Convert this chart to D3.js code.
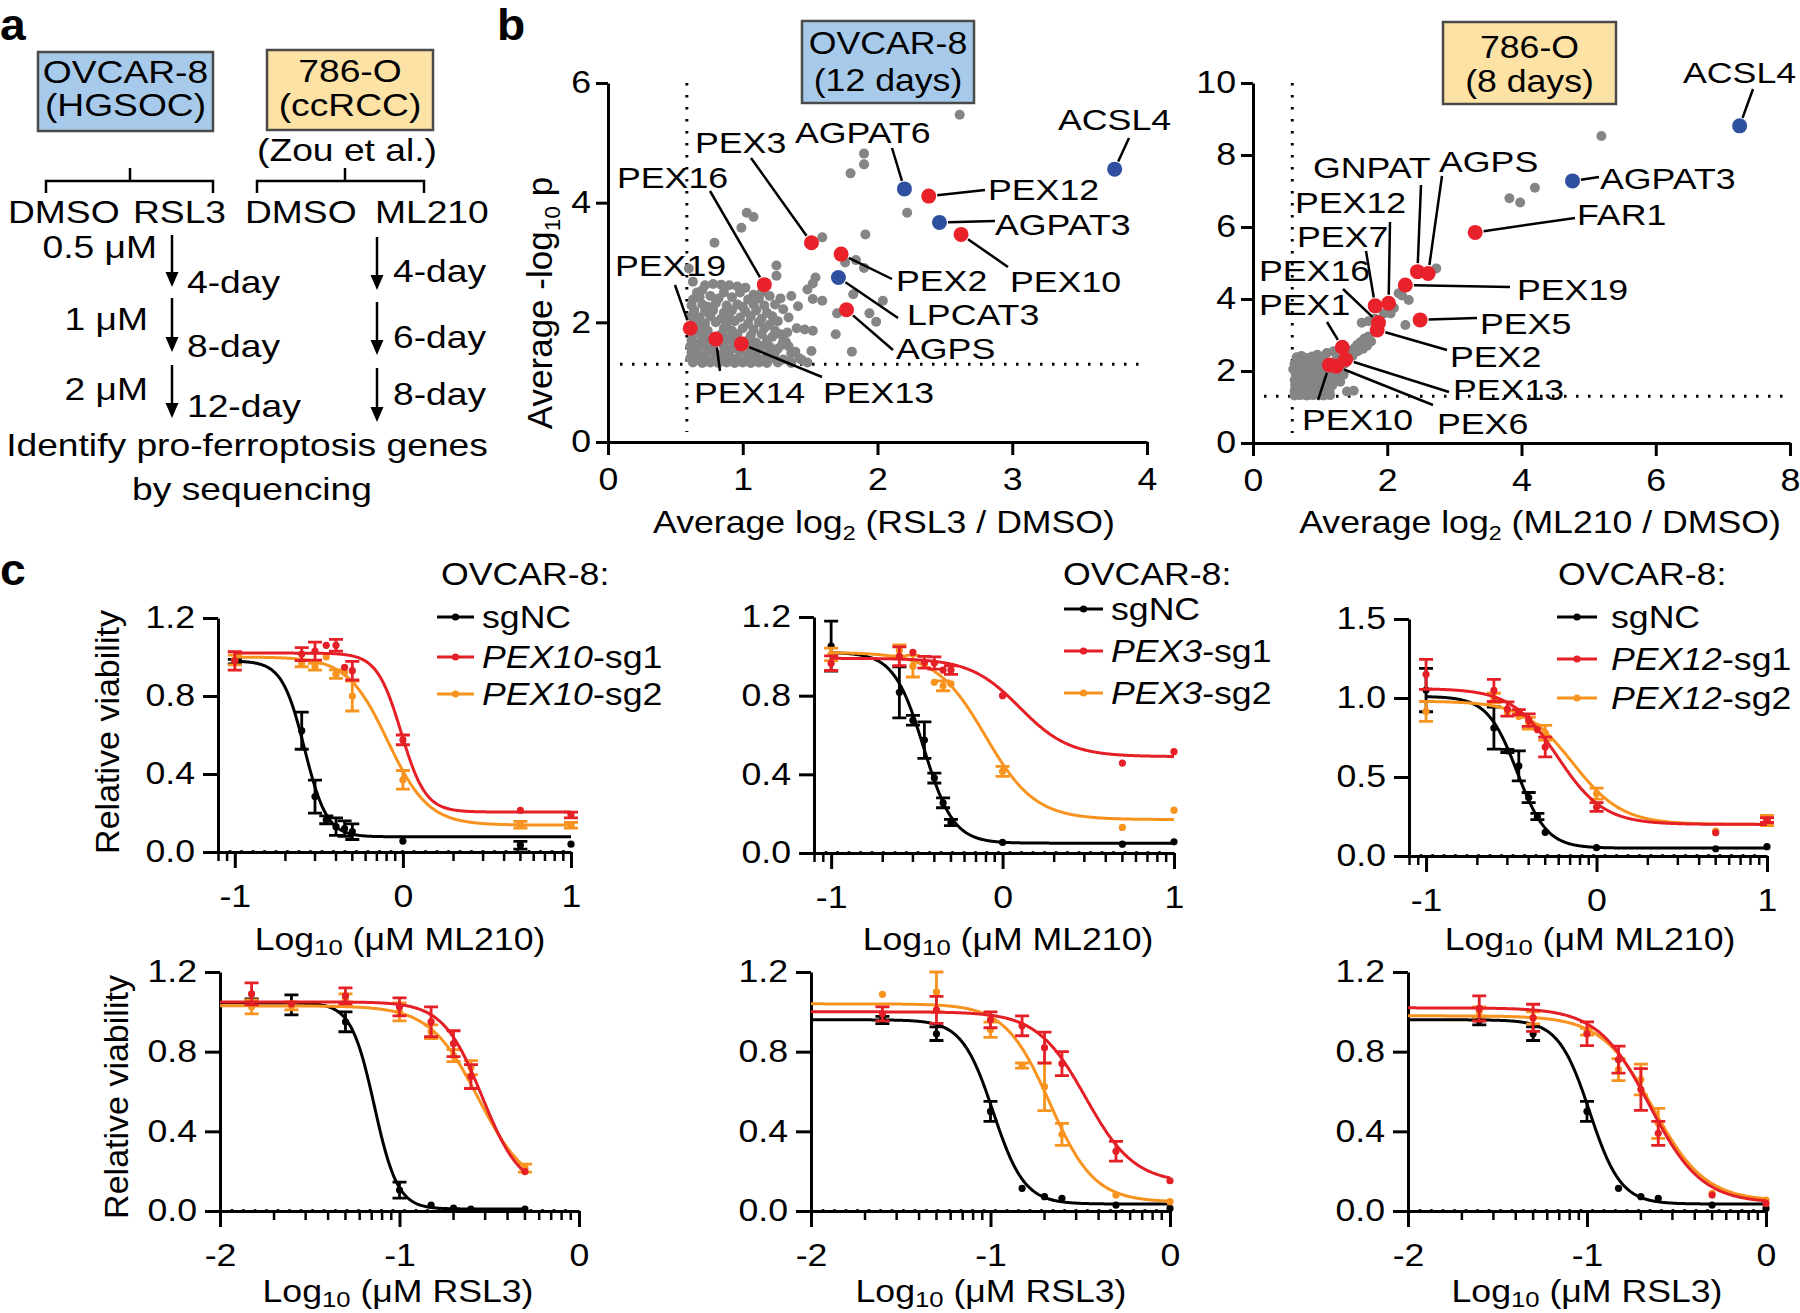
<!DOCTYPE html>
<html><head><meta charset="utf-8">
<script src="https://cdn.jsdelivr.net/npm/d3@7"></script>
<style>
body{margin:0;background:#fff;}
svg text{font-family:"Liberation Sans",Arial,Helvetica,sans-serif;fill:#000;}
</style></head><body>
<svg id="fig" width="1800" height="1313" xmlns="http://www.w3.org/2000/svg"></svg>
<script>
// ===================== DATA =====================
// Panel a (schematic text)
const leftConc = ['0.5 μM', '1 μM', '2 μM'];
const leftDays = ['4-day', '8-day', '12-day'];
const rightDays = ['4-day', '6-day', '8-day'];

// Panel b left: OVCAR-8, RSL3 (x = avg log2 FC, y = avg -log10 p)
const ovcarGenes = ['ACSL4','AGPAT6','PEX12','AGPAT3','PEX10','PEX3','PEX2','LPCAT3','AGPS','PEX16','PEX19','PEX14','PEX13'];
const ovcarX = [3.76,2.20,2.38,2.46,2.62,1.51,1.73,1.71,1.77,1.16,0.61,0.80,0.99];
const ovcarY = [4.56,4.23,4.11,3.67,3.47,3.33,3.14,2.75,2.21,2.63,1.90,1.72,1.64];
const ovcarKind = ['lipid','lipid','pex','lipid','pex','pex','pex','lipid','pex','pex','pex','pex','pex'];
const ovcarOther = [
 [2.61,5.47],[1.90,4.82],[1.90,4.64],[1.80,4.49],[2.22,3.83],[1.03,3.83],[1.08,3.76],[0.99,3.58],[1.59,3.42],[1.91,3.47],
 [0.79,3.33],[0.60,2.90],[0.63,2.68],[1.25,2.95],[1.25,2.78],[1.84,3.04],[1.76,3.00],[1.90,2.91],[1.54,2.75],[1.52,2.65],
 [1.48,2.55],[1.82,2.47],[1.52,2.39],[1.59,2.36],[2.04,2.36],[1.41,2.27],[1.70,2.15],[1.94,2.15],[1.99,2.01],[1.52,1.86],
 [1.69,1.80],[1.51,1.52],[1.81,1.51],[1.33,1.83],[1.32,1.67],[1.39,1.51],[1.44,1.37],[1.20,1.59],[1.29,1.62],[1.25,1.37],[1.35,1.35],
 [0.72,2.62],[0.78,2.64],[0.84,2.63],[0.90,2.62],[0.96,2.60],[1.02,2.58],
 [0.66,2.50],[0.70,2.54],[0.86,2.50],[0.98,2.50],[1.08,2.46],[1.14,2.50],
 [0.63,2.38],[0.68,2.42],[0.76,2.44],[0.82,2.40],[0.92,2.42],[1.04,2.38],[1.12,2.40],[1.20,2.44],[1.28,2.40],[1.36,2.44],
 [0.62,2.28],[0.70,2.30],[0.74,2.26],[0.80,2.32],[0.88,2.28],[0.96,2.30],[1.00,2.26],[1.08,2.30],[1.16,2.28],[1.24,2.30],
 [0.64,2.20],[0.72,2.18],[0.78,2.20],[0.86,2.16],[0.92,2.20],[1.02,2.18],[1.10,2.20],[1.18,2.16],[1.30,2.22],
 [0.62,2.10],[0.68,2.08],[0.76,2.10],[0.84,2.06],[0.90,2.10],[0.98,2.08],[1.06,2.10],[1.14,2.06],[1.22,2.10],[1.34,2.08],
 [0.66,2.00],[0.72,1.98],[0.80,2.00],[0.88,1.98],[0.94,2.02],[1.04,1.98],[1.12,2.00],[1.20,1.96],[1.26,2.02],
 [0.68,1.90],[0.74,1.86],[0.86,1.90],[0.92,1.86],[1.00,1.90],[1.08,1.88],[1.16,1.90],[1.24,1.86],[1.40,1.90],[1.46,1.88],
 [0.64,1.80],[0.70,1.78],[0.84,1.80],[0.90,1.76],[0.96,1.80],[1.06,1.78],[1.14,1.80],[1.22,1.76],[1.28,1.80],
 [0.62,1.70],[0.68,1.66],[0.74,1.70],[0.88,1.70],[0.94,1.66],[1.04,1.70],[1.10,1.66],[1.18,1.70],[1.30,1.68],
 [0.61,1.60],[0.66,1.56],[0.72,1.60],[0.78,1.56],[0.86,1.60],[0.92,1.56],[1.06,1.58],[1.14,1.60],[1.26,1.56],[1.34,1.60],
 [0.62,1.50],[0.68,1.46],[0.74,1.50],[0.80,1.48],[0.86,1.50],[0.90,1.46],[0.98,1.50],[1.04,1.46],[1.10,1.50],[1.18,1.46],[1.24,1.50],[1.36,1.48],
 [0.61,1.40],[0.66,1.38],[0.72,1.40],[0.78,1.36],[0.84,1.40],[0.90,1.38],[0.96,1.40],[1.02,1.36],[1.08,1.40],[1.14,1.38],[1.20,1.40],[1.30,1.38],[1.42,1.40],
 [0.63,1.33],[0.70,1.32],[0.76,1.33],[0.82,1.32],[0.88,1.33],[0.94,1.32],[1.00,1.33],[1.06,1.32],[1.12,1.33],[1.18,1.32],[1.26,1.33],[1.36,1.32],[1.48,1.33]
];

// Panel b right: 786-O, ML210
const rccGenes = ['ACSL4','AGPAT3','FAR1','GNPAT','AGPS','PEX19','PEX12','PEX7','PEX5','PEX16','PEX2','PEX1','PEX13','PEX10','PEX6'];
const rccX = [7.25,4.76,3.31,2.45,2.61,2.27,2.02,1.82,2.49,1.87,1.85,1.33,1.38,1.14,1.24];
const rccY = [8.81,7.28,5.85,4.76,4.71,4.39,3.88,3.81,3.42,3.34,3.14,2.66,2.32,2.17,2.13];
const rccKind = ['lipid','lipid','pex','pex','pex','pex','pex','pex','pex','pex','pex','pex','pex','pex','pex'];
const rccOther = [
 [5.19,8.53],[4.20,7.09],[3.82,6.80],[3.98,6.68],[2.73,4.85],
 [0.62,1.32],[0.66,1.36],[0.70,1.33],[0.75,1.35],[0.80,1.32],[0.85,1.34],[0.90,1.33],[0.95,1.36],[1.00,1.34],[1.05,1.32],[1.10,1.35],[1.15,1.33],
 [0.62,1.45],[0.68,1.48],[0.73,1.44],[0.78,1.50],[0.84,1.46],[0.90,1.50],[0.96,1.45],[1.02,1.48],[1.08,1.50],[1.14,1.46],
 [0.63,1.60],[0.69,1.58],[0.74,1.63],[0.80,1.60],[0.86,1.62],[0.92,1.58],[0.98,1.64],[1.04,1.60],[1.10,1.64],[1.18,1.60],
 [0.62,1.75],[0.67,1.72],[0.72,1.78],[0.78,1.74],[0.84,1.78],[0.90,1.74],[0.96,1.80],[1.02,1.76],[1.08,1.80],[1.16,1.78],[1.24,1.82],
 [0.64,1.90],[0.70,1.88],[0.76,1.92],[0.82,1.90],[0.88,1.94],[0.94,1.90],[1.00,1.95],[1.06,1.92],[1.12,1.96],[1.20,1.94],[1.28,2.00],
 [0.60,2.05],[0.66,2.08],[0.72,2.04],[0.80,2.08],[0.86,2.05],[0.92,2.10],[1.00,2.08],[1.08,2.12],[1.30,2.12],[1.36,2.20],
 [0.62,2.20],[0.68,2.24],[0.76,2.20],[0.84,2.22],[0.90,2.26],[0.98,2.22],[1.04,2.30],[1.25,2.35],[1.42,2.35],
 [0.65,2.38],[0.72,2.42],[0.80,2.36],[0.88,2.40],[0.96,2.45],[1.10,2.50],[1.20,2.55],
 [1.45,2.50],[1.50,2.62],[1.55,2.72],[1.60,2.80],[1.66,2.90],[1.72,2.96],[1.56,2.55],[1.64,2.62],[1.70,2.70],[1.76,2.82],[1.48,2.42],
 [1.62,3.34],[1.72,3.38],[1.82,3.45],[1.95,3.60],[2.05,3.60],[2.10,3.75],[2.17,4.16],[2.22,4.10],[2.32,3.97],[2.27,3.28],
 [1.50,1.45],[1.40,1.43],[1.30,1.70],[1.35,1.90]
];

// Panel c: log10 doses
const mlDoses = [-1, -0.602, -0.523, -0.456, -0.398, -0.347, -0.301, 0, 0.699, 1];
const rslDosesA = [-1.824, -1.602, -1.301, -1, -0.824, -0.699, -0.602, -0.301];
const rslDosesB = [-1.602, -1.301, -1, -0.824, -0.699, -0.602, -0.301, 0];

// PEX10 / ML210
const pex10ML_nc = [0.976, 0.622, 0.284, 0.165, 0.13, 0.12, 0.104, 0.056, 0.035, 0.04];
const pex10ML_ncErr = [0.012, 0.095, 0.085, 0.02, 0.045, 0.04, 0.04, 0, 0.02, 0];
const pex10ML_sg1 = [0.98, 1.015, 1.03, 1.06, 1.06, 0.947, 0.93, 0.575, 0.213, 0.19];
const pex10ML_sg1Err = [0.047, 0.033, 0.046, 0, 0.03, 0, 0.048, 0.025, 0, 0.015];
const pex10ML_sg2 = [0.985, 0.967, 0.95, 1.0, 0.912, 0.92, 0.80, 0.37, 0.14, 0.137];
const pex10ML_sg2Err = [0.025, 0.017, 0.017, 0, 0.022, 0, 0.077, 0.048, 0.017, 0.015];
const pex10ML_fit = [[0.98,0.078,-0.585,6.5],[1.02,0.205,-0.01,6],[1.0,0.138,-0.09,3.6]];
// PEX3 / ML210
const pex3ML_nc = [1.052, 0.817, 0.675, 0.574, 0.381, 0.255, 0.155, 0.054, 0.045, 0.057];
const pex3ML_ncErr = [0.127, 0.13, 0.025, 0.093, 0.025, 0.025, 0.016, 0, 0, 0];
const pex3ML_sg1 = [0.965, 1.0, 1.02, 0.97, 0.966, 0.93, 0.93, 0.8, 0.457, 0.515];
const pex3ML_sg1Err = [0.037, 0.048, 0, 0.03, 0.031, 0, 0.022, 0, 0, 0];
const pex3ML_sg2 = [1.01, 1.03, 0.95, 0.96, 0.868, 0.85, 0.86, 0.415, 0.13, 0.218];
const pex3ML_sg2Err = [0.032, 0.028, 0.055, 0, 0, 0.025, 0, 0.025, 0, 0];
const pex3ML_fit = [[1.02,0.05,-0.46,5],[0.99,0.49,0.1,3],[1.02,0.17,-0.1,3]];
// PEX12 / ML210
const pex12ML_nc = [1.05, 0.81, 0.665, 0.57, 0.37, 0.25, 0.15, 0.053, 0.046, 0.059];
const pex12ML_ncErr = [0.137, 0.133, 0.01, 0.095, 0.032, 0.02, 0, 0, 0, 0];
const pex12ML_sg1 = [1.15, 1.048, 0.93, 0.91, 0.86, 0.80, 0.69, 0.31, 0.147, 0.227];
const pex12ML_sg1Err = [0.095, 0.07, 0.045, 0.016, 0.04, 0, 0.063, 0.028, 0, 0.015];
const pex12ML_sg2 = [0.915, 1.0, 0.91, 0.884, 0.84, 0.82, 0.78, 0.395, 0.158, 0.225];
const pex12ML_sg2Err = [0.063, 0.03, 0, 0, 0.037, 0, 0.047, 0.035, 0, 0.032];
const pex12ML_fit = [[1.01,0.05,-0.465,5],[1.06,0.2,-0.23,3.2],[0.98,0.2,-0.14,3]];
// PEX10 / RSL3
const pex10RS_nc = [1.05, 1.035, 0.95, 0.105, 0.03, 0.015, 0.01, 0.01];
const pex10RS_ncErr = [0.015, 0.05, 0.05, 0.04, 0, 0, 0, 0];
const pex10RS_sg1 = [1.09, 1.04, 1.08, 1.025, 0.95, 0.84, 0.675, 0.198];
const pex10RS_sg1Err = [0.055, 0, 0.04, 0.045, 0.075, 0.065, 0.06, 0];
const pex10RS_sg2 = [1.025, 1.03, 1.06, 1.0, 0.9, 0.78, 0.72, 0.215];
const pex10RS_sg2Err = [0.035, 0.02, 0.03, 0.045, 0.035, 0.03, 0.035, 0.02];
const pex10RS_fit = [[1.045,0.01,-1.14,6.7],[1.05,0.10,-0.54,4],[1.03,0.10,-0.56,3.2]];
// PEX3 / RSL3
const pex3RS_nc = [0.959, 0.89, 0.5, 0.114, 0.072, 0.064, 0.03, 0.013];
const pex3RS_ncErr = [0.018, 0.034, 0.05, 0, 0, 0, 0, 0];
const pex3RS_sg1 = [0.99, 1.01, 0.96, 0.93, 0.82, 0.74, 0.30, 0.152];
const pex3RS_sg1Err = [0.035, 0.068, 0.04, 0.05, 0.078, 0.06, 0.05, 0];
const pex3RS_sg2 = [1.088, 1.1, 0.91, 0.73, 0.624, 0.385, 0.08, 0.047];
const pex3RS_sg2Err = [0, 0.1, 0.038, 0.013, 0.12, 0.055, 0, 0];
const pex3RS_fit = [[0.96,0.035,-0.985,5],[1.0,0.14,-0.47,3.2],[1.04,0.045,-0.67,3.5]];
// PEX12 / RSL3
const pex12RS_nc = [0.955, 0.89, 0.5, 0.114, 0.072, 0.064, 0.03, 0.013];
const pex12RS_ncErr = [0.02, 0.034, 0.05, 0, 0, 0, 0, 0];
const pex12RS_sg1 = [1.017, 0.97, 0.89, 0.76, 0.61, 0.39, 0.08, 0.038];
const pex12RS_sg1Err = [0.063, 0.068, 0.06, 0.068, 0.105, 0.06, 0, 0];
const pex12RS_sg2 = [1.0, 0.97, 0.9, 0.71, 0.66, 0.44, 0.088, 0.055];
const pex12RS_sg2Err = [0.025, 0.03, 0.017, 0.055, 0.077, 0.075, 0, 0];
const pex12RS_fit = [[0.96,0.035,-0.985,5],[1.02,0.04,-0.65,3],[0.98,0.05,-0.63,3]];

const mlTicks = [-1, 0, 1];
const rslTicks = [-2, -1, 0];
const viabTicks12 = [0, 0.4, 0.8, 1.2];
const viabTicks15 = [0, 0.5, 1.0, 1.5];

// ===================== STYLE / HELPERS =====================
const SX = 1.15;
const GRAY = '#858585', RED = '#e8212a', BLUE = '#2f4f9f';
const C_BLACK = '#000000', C_RED = '#e41f26', C_ORANGE = '#f7931e';
const BOX_BLUE = '#a8caea', BOX_ORANGE = '#fde2a5';
const svg = d3.select('#fig');
svg.append('rect').attr('width',1800).attr('height',1313).attr('fill','#fff');

function label(g, x, y, parts, o = {}) {
  const size = o.size || 31;
  const sx = o.sx ?? SX;
  let tr = `translate(${x},${y})`;
  if (o.rot) tr += ` rotate(${o.rot})`;
  if (sx !== 1) tr += ` scale(${sx},1)`;
  const t = g.append('text').attr('transform', tr).attr('font-size', size)
    .attr('text-anchor', o.anchor || 'start');
  if (o.weight) t.attr('font-weight', o.weight);
  if (typeof parts === 'string') parts = [{t: parts}];
  let shift = 0;
  parts.forEach(p => {
    const ts = t.append('tspan').text(p.t);
    const target = p.sub ? (p.dy ?? size * 0.2) : 0;
    if (target !== shift) { ts.attr('dy', target - shift); shift = target; }
    if (p.sub) ts.attr('font-size', size * (p.scale || 0.65));
    if (p.it) ts.attr('font-style', 'italic');
  });
  return t;
}
function fmtTick(d) { return d < 0 ? '-' + Math.abs(d) : String(d); }
function styleAxis(sel, size) {
  sel.attr('font-family', null).attr('font-size', null);
  sel.select('.domain').attr('stroke', '#000').attr('stroke-width', 3);
  sel.selectAll('.tick line').attr('stroke', '#000').attr('stroke-width', 3);
  sel.selectAll('.tick text').attr('fill', '#000').attr('font-size', size || 31)
    .each(function () {
      const t = d3.select(this);
      const x = +(t.attr('x') || 0), y = +(t.attr('y') || 0);
      t.attr('x', 0).attr('y', 0).attr('transform', `translate(${x},${y}) scale(${SX},1)`);
    });
}
function line(g, x1, y1, x2, y2, w) {
  return g.append('line').attr('x1', x1).attr('y1', y1).attr('x2', x2).attr('y2', y2)
    .attr('stroke', '#000').attr('stroke-width', w || 2.5);
}

// ===================== PANEL LETTERS =====================
label(svg, 0, 40, 'a', {size: 44, weight: 'bold', sx: 1.05});
label(svg, 497, 40, 'b', {size: 44, weight: 'bold', sx: 1.05});
label(svg, 0, 585, 'c', {size: 44, weight: 'bold', sx: 1.05});

// ===================== PANEL A =====================
(function () {
  const g = svg.append('g');
  const ASX = 1.2;
  g.append('rect').attr('x', 38).attr('y', 52).attr('width', 175).attr('height', 79)
    .attr('fill', BOX_BLUE).attr('stroke', '#4a4a4a').attr('stroke-width', 2.5);
  label(g, 125.5, 83, 'OVCAR-8', {anchor: 'middle', sx: ASX});
  label(g, 125.5, 116, '(HGSOC)', {anchor: 'middle', sx: ASX});
  g.append('rect').attr('x', 267).attr('y', 50).attr('width', 166).attr('height', 80)
    .attr('fill', BOX_ORANGE).attr('stroke', '#4a4a4a').attr('stroke-width', 2.5);
  label(g, 350, 82, '786-O', {anchor: 'middle', sx: ASX});
  label(g, 350, 116, '(ccRCC)', {anchor: 'middle', sx: ASX});
  label(g, 347, 161, '(Zou et al.)', {anchor: 'middle', sx: ASX});
  // brackets
  [[46, 213, 130], [257, 424, 345]].forEach(([a, b, c]) => {
    g.append('path').attr('d', `M${a},193V181H${b}V193M${c},181V168`)
      .attr('fill', 'none').attr('stroke', '#000').attr('stroke-width', 2.5);
  });
  label(g, 8, 223, 'DMSO', {sx: ASX}); label(g, 133, 223, 'RSL3', {sx: ASX});
  label(g, 245, 223, 'DMSO', {sx: ASX}); label(g, 375, 223, 'ML210', {sx: ASX});
  function arrow(x, y1, y2) {
    line(g, x, y1, x, y2 - 10, 2.5);
    g.append('path').attr('d', `M${x - 6.5},${y2 - 15}L${x},${y2}L${x + 6.5},${y2 - 15}Z`).attr('fill', '#000');
  }
  const lArr = [[235, 287], [298, 352], [365, 418]];
  const lConcY = [258, 330, 400], lConcX = [157, 148, 148], lDayY = [293, 357, 417];
  leftConc.forEach((c, i) => {
    label(g, lConcX[i], lConcY[i], c, {anchor: 'end', sx: ASX});
    arrow(172, lArr[i][0], lArr[i][1]);
    label(g, 187, lDayY[i], leftDays[i], {sx: ASX});
  });
  const rArr = [[237, 290], [302, 355], [368, 422]];
  const rDayY = [282, 348, 405];
  rightDays.forEach((d, i) => {
    arrow(377, rArr[i][0], rArr[i][1]);
    label(g, 393, rDayY[i], d, {sx: ASX});
  });
  label(g, 247, 456, 'Identify pro-ferroptosis genes', {anchor: 'middle', sx: ASX});
  label(g, 252, 500, 'by sequencing', {anchor: 'middle', sx: ASX});
})();

// ===================== PANEL B =====================
function drawScatter(p) {
  const g = svg.append('g');
  const x = d3.scaleLinear().domain(p.xDom).range(p.xRng);
  const y = d3.scaleLinear().domain(p.yDom).range(p.yRng);
  // thresholds
  g.append('line').attr('x1', x(0.585)).attr('x2', x(0.585)).attr('y1', p.yRng[1]).attr('y2', p.yRng[0] - 10)
    .attr('stroke', '#000').attr('stroke-width', 3).attr('stroke-dasharray', '2.5 9.5');
  g.append('line').attr('x1', p.hStart).attr('x2', p.xRng[1]).attr('y1', y(1.301)).attr('y2', y(1.301))
    .attr('stroke', '#000').attr('stroke-width', 3).attr('stroke-dasharray', '2.5 9.5');
  // axes
  const ax = g.append('g').attr('transform', `translate(0,${p.yRng[0]})`)
    .call(d3.axisBottom(x).tickValues(p.xTicks).tickSize(13).tickPadding(13).tickSizeOuter(0).tickFormat(fmtTick));
  styleAxis(ax);
  const ay = g.append('g').attr('transform', `translate(${p.xRng[0]},0)`)
    .call(d3.axisLeft(y).tickValues(p.yTicks).tickSize(12).tickPadding(5).tickSizeOuter(0).tickFormat(fmtTick));
  styleAxis(ay);
  // others
  g.append('g').selectAll('circle').data(p.other).join('circle')
    .attr('cx', d => x(d[0])).attr('cy', d => y(d[1])).attr('r', 5).attr('fill', GRAY);
  // leader lines
  p.genes.forEach((gn, i) => {
    const L = p.layout[gn];
    const px = x(p.xs[i]), py = y(p.ys[i]);
    const dx = L.lx - px, dy = L.ly - py, len = Math.hypot(dx, dy);
    const sx = px + dx / len * 8.5, sy = py + dy / len * 8.5;
    line(g, sx, sy, L.lx, L.ly, 2.5);
  });
  p.genes.forEach((gn, i) => {
    g.append('circle').attr('cx', x(p.xs[i])).attr('cy', y(p.ys[i])).attr('r', 7.5)
      .attr('fill', p.kind[i] === 'lipid' ? BLUE : RED);
  });
  p.genes.forEach((gn) => {
    const L = p.layout[gn];
    label(g, L.tx, L.ty, gn, {size: 30, sx: 1.19, anchor: L.anchor || 'start'});
  });
  // title box
  const b = p.box;
  g.append('rect').attr('x', b.x).attr('y', b.y).attr('width', b.w).attr('height', b.h)
    .attr('fill', b.fill).attr('stroke', '#4a4a4a').attr('stroke-width', 2.5);
  label(g, b.x + b.w / 2, b.t1y, b.t1, {anchor: 'middle'});
  label(g, b.x + b.w / 2, b.t2y, b.t2, {anchor: 'middle'});
  // axis titles
  label(g, p.xTitleX, 533, [{t: 'Average log'}, {t: '2', sub: true, dy: 7}, {t: ' (' + p.drug + ' / DMSO)'}], {anchor: 'middle'});
  if (p.yTitle) label(g, 552, 303, [{t: 'Average -log'}, {t: '10', sub: true, dy: 8}, {t: ' p'}], {anchor: 'middle', rot: -90, sx: 1, size: 35});
}

drawScatter({
  xDom: [0, 4], xRng: [608, 1147], yDom: [0, 6], yRng: [442, 83],
  xTicks: [0, 1, 2, 3, 4], yTicks: [0, 2, 4, 6], hStart: 620,
  other: ovcarOther, genes: ovcarGenes, xs: ovcarX, ys: ovcarY, kind: ovcarKind,
  drug: 'RSL3', xTitleX: 884, yTitle: true,
  box: {x: 802, y: 21, w: 172, h: 82, fill: BOX_BLUE, t1: 'OVCAR-8', t1y: 54, t2: '(12 days)', t2y: 91},
  layout: {
    ACSL4: {tx: 1058, ty: 130, lx: 1129, ly: 138},
    AGPAT6: {tx: 795, ty: 143, lx: 892, ly: 148},
    PEX3: {tx: 695, ty: 153, lx: 751, ly: 158},
    PEX16: {tx: 617, ty: 188, lx: 710, ly: 191},
    PEX19: {tx: 615, ty: 276, lx: 675, ly: 285},
    PEX12: {tx: 988, ty: 200, lx: 985, ly: 190},
    AGPAT3: {tx: 995, ty: 235, lx: 995, ly: 221},
    PEX10: {tx: 1010, ty: 292, lx: 1008, ly: 267},
    PEX2: {tx: 896, ty: 291, lx: 892, ly: 279},
    LPCAT3: {tx: 907, ty: 325, lx: 898, ly: 318},
    AGPS: {tx: 896, ty: 359, lx: 893, ly: 350},
    PEX14: {tx: 694, ty: 403, lx: 720, ly: 371},
    PEX13: {tx: 823, ty: 403, lx: 822, ly: 377}
  }
});

drawScatter({
  xDom: [0, 8], xRng: [1253, 1790], yDom: [0, 10], yRng: [443, 83],
  xTicks: [0, 2, 4, 6, 8], yTicks: [0, 2, 4, 6, 8, 10], hStart: 1264,
  other: rccOther, genes: rccGenes, xs: rccX, ys: rccY, kind: rccKind,
  drug: 'ML210', xTitleX: 1540, yTitle: false,
  box: {x: 1443, y: 22, w: 173, h: 82, fill: BOX_ORANGE, t1: '786-O', t1y: 58, t2: '(8 days)', t2y: 92},
  layout: {
    ACSL4: {tx: 1683, ty: 83, lx: 1753, ly: 89},
    AGPAT3: {tx: 1600, ty: 189, lx: 1599, ly: 177},
    FAR1: {tx: 1577, ty: 225, lx: 1575, ly: 218},
    GNPAT: {tx: 1313, ty: 178, lx: 1421, ly: 185},
    AGPS: {tx: 1439, ty: 172, lx: 1442, ly: 176},
    PEX12: {tx: 1295, ty: 213, lx: 1390, ly: 222},
    PEX7: {tx: 1297, ty: 247, lx: 1366, ly: 251},
    PEX16: {tx: 1259, ty: 281, lx: 1343, ly: 289},
    PEX1: {tx: 1259, ty: 315, lx: 1327, ly: 322},
    PEX19: {tx: 1517, ty: 300, lx: 1510, ly: 287},
    PEX5: {tx: 1480, ty: 334, lx: 1477, ly: 318},
    PEX2: {tx: 1450, ty: 367, lx: 1447, ly: 350},
    PEX13: {tx: 1453, ty: 400, lx: 1449, ly: 392},
    PEX6: {tx: 1437, ty: 434, lx: 1433, ly: 405},
    PEX10: {tx: 1302, ty: 430, lx: 1318, ly: 400}
  }
});

// ===================== PANEL C =====================
function drawDR(p) {
  const g = svg.append('g');
  const x = d3.scaleLinear().domain(p.xDom).range(p.xRng);
  const y = d3.scaleLinear().domain(p.yDom).range(p.yRng);
  const y0 = p.yRng[0];
  // axes
  const ax = g.append('g').attr('transform', `translate(0,${y0})`)
    .call(d3.axisBottom(x).tickValues(p.xTicks).tickSize(16).tickPadding(17).tickSizeOuter(0).tickFormat(fmtTick));
  styleAxis(ax);
  const minors = [];
  [-3, -2, -1, 0].forEach(n => d3.range(2, 10).forEach(k => {
    const v = n + Math.log10(k);
    if (v > p.xDom[0] && v < p.xDom[1]) minors.push(v);
  }));
  g.append('g').selectAll('line').data(minors).join('line')
    .attr('x1', d => x(d)).attr('x2', d => x(d)).attr('y1', y0).attr('y2', y0 + 9)
    .attr('stroke', '#000').attr('stroke-width', 2.5);
  g.append('g').selectAll('circle').data(d3.range(p.xRng[0] + 12, p.xRng[1] - 3, 11.5)).join('circle')
    .attr('cx', d => d).attr('cy', y0).attr('r', 2).attr('fill', '#000');
  const ay = g.append('g').attr('transform', `translate(${p.xRng[0]},0)`)
    .call(d3.axisLeft(y).tickValues(p.yTicks).tickSize(15).tickPadding(8).tickSizeOuter(0).tickFormat(d3.format('.1f')));
  styleAxis(ay);
  const order = [0, 2, 1];
  order.forEach(si => {
    const col = [C_BLACK, C_RED, C_ORANGE][si];
    const [top, bot, c, h] = p.fit[si];
    const pts = d3.range(p.curveX[0], p.curveX[1] + 1e-9, 0.005).map(v => [v, bot + (top - bot) / (1 + Math.pow(10, (v - c) * h))]);
    g.append('path').attr('d', d3.line().x(d => x(d[0])).y(d => y(d[1]))(pts))
      .attr('fill', 'none').attr('stroke', col).attr('stroke-width', 3);
    const m = p.mean[si], e = p.err[si];
    p.doses.forEach((dv, i) => {
      if (m[i] == null) return;
      const cx = x(dv);
      if (e[i] > 0) {
        const ya = y(m[i] + e[i]), yb = y(m[i] - e[i]);
        g.append('path').attr('d', `M${cx},${ya}V${yb}M${cx - 7},${ya}H${cx + 7}M${cx - 7},${yb}H${cx + 7}`)
          .attr('fill', 'none').attr('stroke', col).attr('stroke-width', 2.8);
      }
      g.append('circle').attr('cx', cx).attr('cy', y(m[i])).attr('r', 3.6).attr('fill', col);
    });
  });
  // axis titles
  label(g, p.xTitle[0], p.xTitle[1], [{t: 'Log'}, {t: '10', sub: true, dy: 5, scale: 0.72}, {t: ' (μM ' + p.drug + ')'}], {anchor: 'middle'});
  if (p.yTitle) label(g, p.yTitle[0], p.yTitle[1], 'Relative viability', {anchor: 'middle', rot: -90, sx: 1, size: 34});
  // legend
  if (p.legend) {
    const L = p.legend;
    label(g, L.tx0, 585, 'OVCAR-8:');
    const names = [[{t: 'sgNC'}], [{t: p.gene, it: true}, {t: '-sg1'}], [{t: p.gene, it: true}, {t: '-sg2'}]];
    [C_BLACK, C_RED, C_ORANGE].forEach((col, i) => {
      const ly = L.rows[i];
      g.append('line').attr('x1', L.l1).attr('x2', L.l2).attr('y1', ly).attr('y2', ly).attr('stroke', col).attr('stroke-width', 3);
      g.append('circle').attr('cx', (L.l1 + L.l2) / 2).attr('cy', ly).attr('r', 3.6).attr('fill', col);
      label(g, L.tx, ly + 11, names[i]);
    });
  }
}

drawDR({gene: 'PEX10', drug: 'ML210', doses: mlDoses, xDom: [-1.1, 1], xRng: [218, 571], yDom: [0, 1.2], yRng: [852, 618],
  xTicks: mlTicks, yTicks: viabTicks12, curveX: [-1, 1],
  mean: [pex10ML_nc, pex10ML_sg1, pex10ML_sg2], err: [pex10ML_ncErr, pex10ML_sg1Err, pex10ML_sg2Err], fit: pex10ML_fit,
  xTitle: [400, 950], yTitle: [119, 732], legend: {tx0: 441, l1: 437, l2: 474, tx: 482, rows: [617, 657, 694]}});
drawDR({gene: 'PEX3', drug: 'ML210', doses: mlDoses, xDom: [-1.1, 1], xRng: [814, 1174], yDom: [0, 1.2], yRng: [853, 617],
  xTicks: mlTicks, yTicks: viabTicks12, curveX: [-1, 1],
  mean: [pex3ML_nc, pex3ML_sg1, pex3ML_sg2], err: [pex3ML_ncErr, pex3ML_sg1Err, pex3ML_sg2Err], fit: pex3ML_fit,
  xTitle: [1008, 950], legend: {tx0: 1063, l1: 1064, l2: 1103, tx: 1111, rows: [609, 651, 693]}});
drawDR({gene: 'PEX12', drug: 'ML210', doses: mlDoses, xDom: [-1.1, 1], xRng: [1409, 1767], yDom: [0, 1.5], yRng: [856, 619],
  xTicks: mlTicks, yTicks: viabTicks15, curveX: [-1, 1],
  mean: [pex12ML_nc, pex12ML_sg1, pex12ML_sg2], err: [pex12ML_ncErr, pex12ML_sg1Err, pex12ML_sg2Err], fit: pex12ML_fit,
  xTitle: [1590, 950], legend: {tx0: 1558, l1: 1557, l2: 1597, tx: 1611, rows: [617, 659, 698]}});
drawDR({gene: 'PEX10', drug: 'RSL3', doses: rslDosesA, xDom: [-2, 0], xRng: [220, 579], yDom: [0, 1.2], yRng: [1211, 972],
  xTicks: rslTicks, yTicks: viabTicks12, curveX: [-2, -0.301],
  mean: [pex10RS_nc, pex10RS_sg1, pex10RS_sg2], err: [pex10RS_ncErr, pex10RS_sg1Err, pex10RS_sg2Err], fit: pex10RS_fit,
  xTitle: [398, 1302], yTitle: [128, 1097]});
drawDR({gene: 'PEX3', drug: 'RSL3', doses: rslDosesB, xDom: [-2, 0], xRng: [811, 1170], yDom: [0, 1.2], yRng: [1211, 972],
  xTicks: rslTicks, yTicks: viabTicks12, curveX: [-2, 0],
  mean: [pex3RS_nc, pex3RS_sg1, pex3RS_sg2], err: [pex3RS_ncErr, pex3RS_sg1Err, pex3RS_sg2Err], fit: pex3RS_fit,
  xTitle: [991, 1302]});
drawDR({gene: 'PEX12', drug: 'RSL3', doses: rslDosesB, xDom: [-2, 0], xRng: [1408, 1766], yDom: [0, 1.2], yRng: [1211, 972],
  xTicks: rslTicks, yTicks: viabTicks12, curveX: [-2, 0],
  mean: [pex12RS_nc, pex12RS_sg1, pex12RS_sg2], err: [pex12RS_ncErr, pex12RS_sg1Err, pex12RS_sg2Err], fit: pex12RS_fit,
  xTitle: [1587, 1302]});
</script>
</body></html>
